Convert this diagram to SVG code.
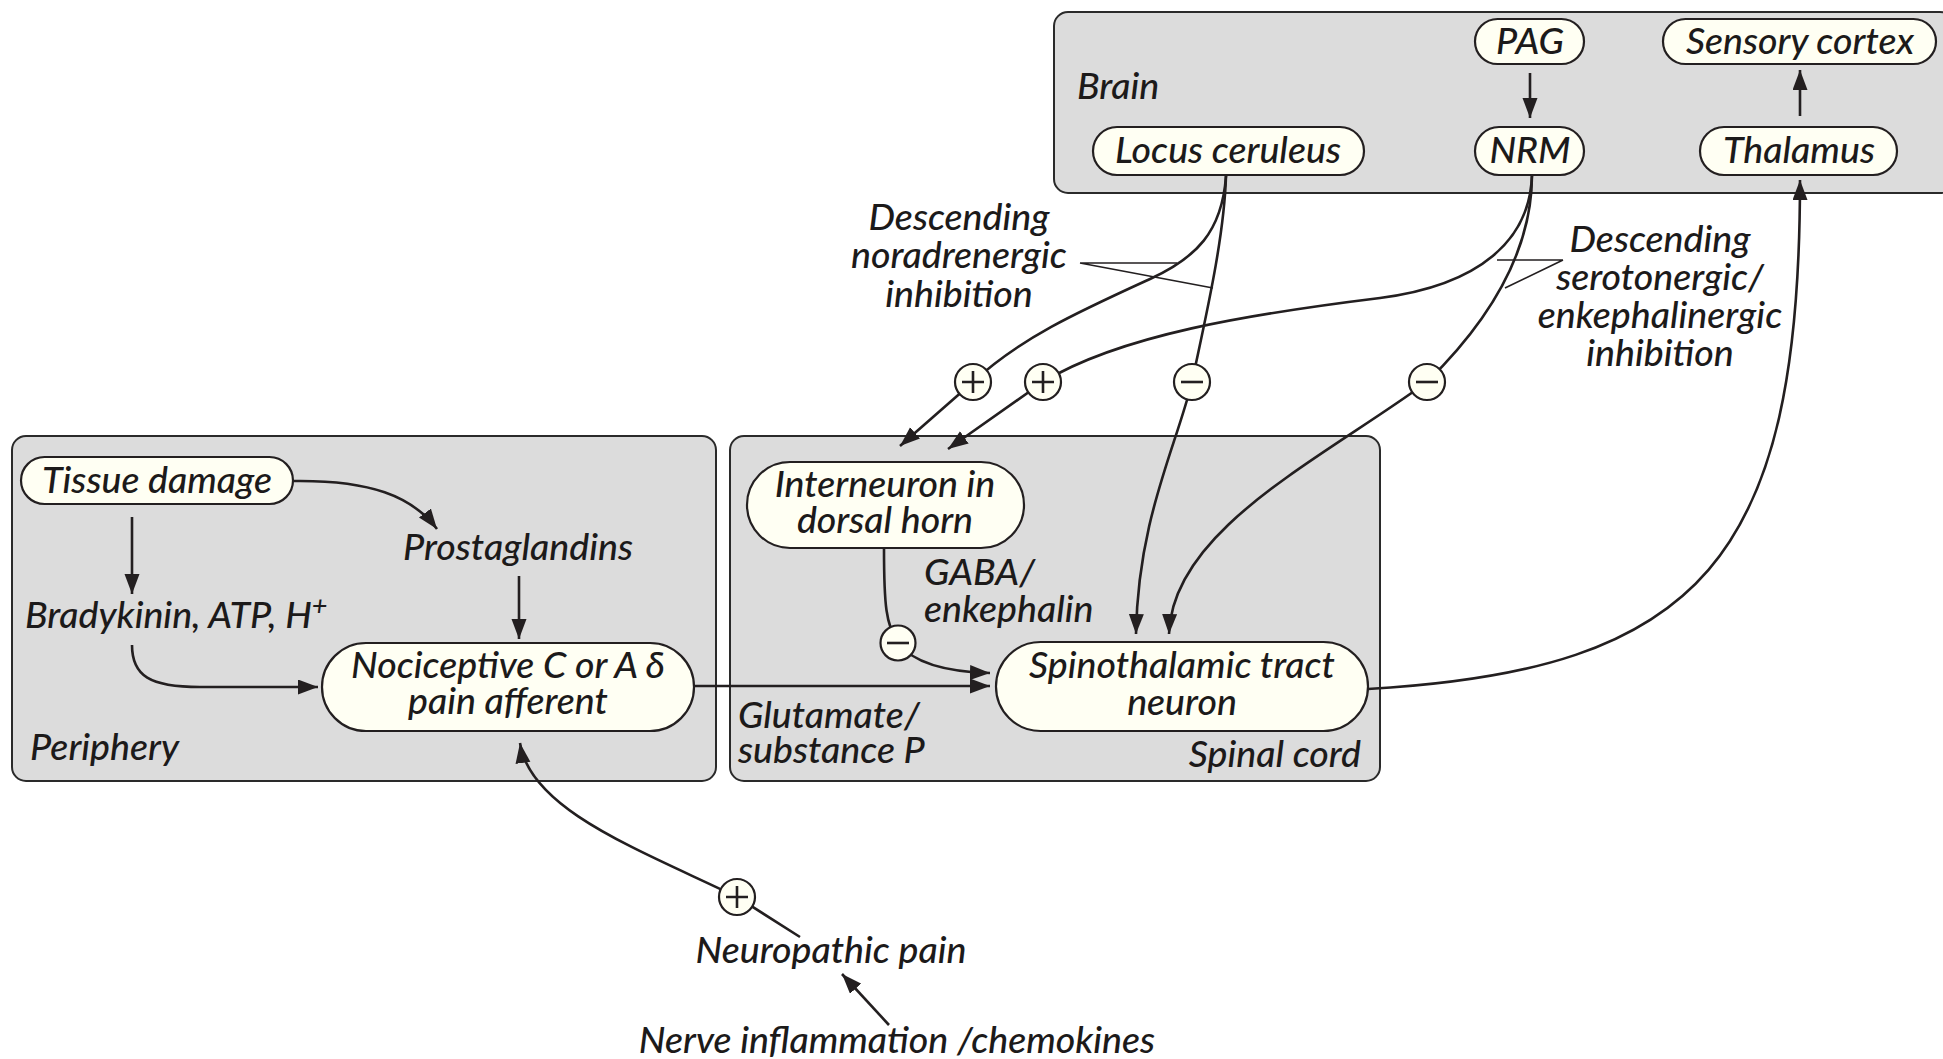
<svg xmlns="http://www.w3.org/2000/svg" width="1943" height="1059" viewBox="0 0 1943 1059">
  <style>
    .region { fill: #dcdcdc; stroke: #2a2a2a; stroke-width: 2; }
    .pill { fill: #fffff3; stroke: #231f20; stroke-width: 2.2; }
    .t { font-family: Lato, "Open Sans", "Liberation Sans", sans-serif; font-style: italic; font-weight: 500; font-size: 37.5px; fill: #1c1a1a; }
    .c { text-anchor: middle; }
    .e { text-anchor: end; }
    .wire { fill: none; stroke: #231f20; stroke-width: 2.6; }
    .leader { fill: none; stroke: #231f20; stroke-width: 1.7; }
    .sign circle { fill: #fffff3; stroke: #231f20; stroke-width: 2.2; }
    .sign path { fill: none; stroke: #231f20; stroke-width: 2.6; }
  </style>
  <defs>
    <marker id="arrow" markerUnits="userSpaceOnUse" markerWidth="21" markerHeight="16" refX="20" refY="7.5" orient="auto" viewBox="0 0 21 16">
      <path d="M0,0 L20,7.5 L0,15 Z" fill="#231f20"/>
    </marker>
  </defs>

  <rect width="1943" height="1059" fill="#ffffff"/>

  <!-- regions -->
  <g id="brain">
    <rect class="region" x="1054" y="12" width="900" height="181" rx="14"/>
    <text class="t" x="1077" y="99">Brain</text>
  </g>
  <g id="periphery">
    <rect class="region" x="12" y="436" width="704" height="345" rx="14"/>
    <text class="t" x="30" y="760">Periphery</text>
  </g>
  <g id="spinal-cord">
    <rect class="region" x="730" y="436" width="650" height="345" rx="14"/>
    <text class="t e" x="1361" y="767">Spinal cord</text>
  </g>

  <!-- connectors -->
  <g id="connectors">
    <path class="wire" d="M1530,73 V118" marker-end="url(#arrow)"/>
    <path class="wire" d="M1800,116 V70" marker-end="url(#arrow)"/>
    <path class="wire" d="M1368,689 C1700,670 1800,560 1800,180" marker-end="url(#arrow)"/>

    <!-- locus ceruleus outputs -->
    <path class="wire" d="M1226,176 C1222,232 1196,258 1150,279 C1080,311 1020,338 973,382 L900,446" marker-end="url(#arrow)"/>
    <path class="wire" d="M1226,176 C1224,240 1205,320 1192,382 C1175,450 1138,520 1136,634" marker-end="url(#arrow)"/>

    <!-- NRM outputs -->
    <path class="wire" d="M1532,175 C1530,240 1480,285 1380,298 C1250,314 1120,335 1043,382 L948,449" marker-end="url(#arrow)"/>
    <path class="wire" d="M1532,175 C1532,260 1480,330 1427,382 C1320,460 1172,530 1169,634" marker-end="url(#arrow)"/>

    <!-- periphery -->
    <path class="wire" d="M132,517 V594" marker-end="url(#arrow)"/>
    <path class="wire" d="M294,481 C370,480 412,496 437,529" marker-end="url(#arrow)"/>
    <path class="wire" d="M519,576 V639" marker-end="url(#arrow)"/>
    <path class="wire" d="M132,645 C132,676 150,687 200,687 L318,687" marker-end="url(#arrow)"/>

    <!-- spinal cord -->
    <path class="wire" d="M694,686 L990,686" marker-end="url(#arrow)"/>
    <path class="wire" d="M884,549 C884,605 886,625 898,643 C915,665 950,672 990,673" marker-end="url(#arrow)"/>

    <!-- neuropathic pain -->
    <path class="wire" d="M800,937 L737,897 C640,850 530,810 520,743" marker-end="url(#arrow)"/>
    <path class="wire" d="M889,1025 L842,974" marker-end="url(#arrow)"/>

    <!-- label leaders -->
    <path class="leader" d="M1080,263 H1177 M1080,263 L1213,288"/>
    <path class="leader" d="M1563,260 H1497 M1563,260 L1505,288"/>

    <!-- modulation signs -->
    <g class="sign" transform="translate(973,382)"><circle r="18"/><path d="M-11,0 H11 M0,-11 V11"/></g>
    <g class="sign" transform="translate(1043,382)"><circle r="18"/><path d="M-11,0 H11 M0,-11 V11"/></g>
    <g class="sign" transform="translate(1192,382)"><circle r="18"/><path d="M-11,0 H11"/></g>
    <g class="sign" transform="translate(1427,382)"><circle r="18"/><path d="M-11,0 H11"/></g>
    <g class="sign" transform="translate(898,643)"><circle r="17.5"/><path d="M-11,0 H11"/></g>
    <g class="sign" transform="translate(737,897)"><circle r="18"/><path d="M-11,0 H11 M0,-11 V11"/></g>
  </g>

  <!-- nodes -->
  <g id="pag">
    <rect class="pill" x="1475" y="19" width="109" height="45" rx="22.5"/>
    <text class="t c" x="1530" y="54">PAG</text>
  </g>
  <g id="sensory-cortex">
    <rect class="pill" x="1663" y="19" width="273" height="45" rx="22.5"/>
    <text class="t c" x="1800" y="54">Sensory cortex</text>
  </g>
  <g id="locus-ceruleus">
    <rect class="pill" x="1093" y="127" width="271" height="48" rx="24"/>
    <text class="t c" x="1228" y="163">Locus ceruleus</text>
  </g>
  <g id="nrm">
    <rect class="pill" x="1475" y="127" width="109" height="48" rx="24"/>
    <text class="t c" x="1530" y="163">NRM</text>
  </g>
  <g id="thalamus">
    <rect class="pill" x="1700" y="127" width="197" height="48" rx="24"/>
    <text class="t c" x="1799" y="163">Thalamus</text>
  </g>

  <g id="tissue-damage">
    <rect class="pill" x="21" y="457" width="272" height="47" rx="23.5"/>
    <text class="t c" x="157" y="493">Tissue damage</text>
  </g>
  <g id="prostaglandins">
    <text class="t c" x="518" y="560">Prostaglandins</text>
  </g>
  <g id="bradykinin">
    <text class="t" x="25" y="628">Bradykinin, ATP, H<tspan dy="-13" font-size="27">+</tspan></text>
  </g>
  <g id="nociceptive-afferent">
    <rect class="pill" x="322" y="643" width="372" height="88" rx="44"/>
    <text class="t c" x="508" y="678">Nociceptive C or A δ</text>
    <text class="t c" x="508" y="714">pain afferent</text>
  </g>

  <g id="interneuron">
    <rect class="pill" x="747" y="462" width="277" height="86" rx="43"/>
    <text class="t c" x="885" y="497">Interneuron in</text>
    <text class="t c" x="885" y="533">dorsal horn</text>
  </g>
  <g id="spinothalamic-neuron">
    <rect class="pill" x="996" y="642" width="372" height="89" rx="44.5"/>
    <text class="t c" x="1182" y="678">Spinothalamic tract</text>
    <text class="t c" x="1182" y="715">neuron</text>
  </g>

  <g id="gaba-label">
    <text class="t" x="924" y="585">GABA/</text>
    <text class="t" x="924" y="622">enkephalin</text>
  </g>
  <g id="glutamate-label">
    <text class="t" x="738" y="728">Glutamate/</text>
    <text class="t" x="738" y="763">substance P</text>
  </g>

  <g id="noradrenergic-label">
    <text class="t c" x="959" y="230">Descending</text>
    <text class="t c" x="959" y="268">noradrenergic</text>
    <text class="t c" x="959" y="307">inhibition</text>
  </g>
  <g id="serotonergic-label">
    <text class="t c" x="1660" y="252">Descending</text>
    <text class="t c" x="1660" y="290">serotonergic/</text>
    <text class="t c" x="1660" y="328">enkephalinergic</text>
    <text class="t c" x="1660" y="366">inhibition</text>
  </g>

  <g id="neuropathic-pain">
    <text class="t c" x="831" y="963">Neuropathic pain</text>
  </g>
  <g id="nerve-inflammation">
    <text class="t c" x="897" y="1053">Nerve inflammation /chemokines</text>
  </g>
</svg>
